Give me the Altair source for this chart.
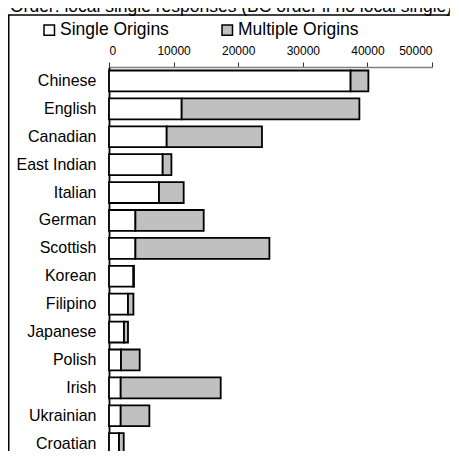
import altair as alt
import pandas as pd

categories = ["Chinese", "English", "Canadian", "East Indian", "Italian", "German",
              "Scottish", "Korean", "Filipino", "Japanese", "Polish", "Irish",
              "Ukrainian", "Croatian"]
single_origins = [37400, 11250, 8930, 8310, 7740, 4090, 4090, 3780, 2940, 2320, 1860, 1810, 1810, 1550]
multiple_origins = [2750, 27510, 14750, 1350, 3820, 10570, 20740, 80, 840, 620, 2890, 15480, 4440, 730]
series_names = ["Single Origins", "Multiple Origins"]
tick_values = [0, 10000, 20000, 30000, 40000, 50000]
title_text = "Order: local single responses (BC order if no local single)"

rows = []
for c, s, m in zip(categories, single_origins, multiple_origins):
    rows.append({"cat": c, "type": series_names[0], "value": s, "ord": 0})
    rows.append({"cat": c, "type": series_names[1], "value": m, "ord": 1})
df = pd.DataFrame(rows)

FONT = "Liberation Sans"

bars = alt.Chart(df).mark_bar(stroke="black", strokeWidth=1.8).encode(
    x=alt.X("value:Q", stack="zero",
            scale=alt.Scale(domain=[0, 50000], nice=False, zero=True),
            axis=alt.Axis(orient="top", values=tick_values, format="d", title=None,
                          grid=False, domainColor="#808080", domainWidth=1.5,
                          tickColor="#303030", tickSize=5, tickWidth=1,
                          labelFontSize=12, labelFont=FONT, labelColor="black",
                          labelPadding=4)),
    y=alt.Y("cat:N", sort=categories,
            scale=alt.Scale(paddingInner=0.25, paddingOuter=0.125),
            axis=alt.Axis(title=None, ticks=False, domainColor="black", domainWidth=1.8,
                          labelFontSize=16, labelFont=FONT, labelColor="black",
                          labelPadding=13)),
    color=alt.Color("type:N",
                    scale=alt.Scale(domain=series_names, range=["#FFFFFF", "#C0C0C0"]),
                    legend=alt.Legend(title=None, orient="none", direction="horizontal",
                                      legendX=-68.5, legendY=-46, symbolType="square",
                                      symbolSize=110, symbolStrokeColor="black",
                                      symbolStrokeWidth=1.5, labelFontSize=17.5,
                                      labelFont=FONT, labelColor="black",
                                      labelOffset=2, columnPadding=49,
                                      labelLimit=300)),
    order=alt.Order("ord:Q"),
)

title_layer = alt.Chart(pd.DataFrame({"t": [title_text]})).mark_text(
    align="left", baseline="alphabetic", fontSize=17.5, font=FONT, color="black"
).encode(text="t:N", x=alt.value(-99), y=alt.value(-55))

frame_df = pd.DataFrame({"a": [0]})
left_line = alt.Chart(frame_df).mark_rule(color="black", strokeWidth=1.5).encode(
    x=alt.value(-100.25), y=alt.value(-52), y2=alt.value(393))
top_line = alt.Chart(frame_df).mark_rule(color="black", strokeWidth=1.5).encode(
    x=alt.value(-101), x2=alt.value(349), y=alt.value(-52))

chart = alt.layer(bars, title_layer, left_line, top_line).properties(
    width=323, height=390.6,
    autosize=alt.AutoSizeParams(type="none"),
    padding={"left": 101, "top": 59, "right": 18, "bottom": -7},
).configure_view(stroke=None)

chart.save("out.html", embed_options={"renderer": "svg", "actions": False})
